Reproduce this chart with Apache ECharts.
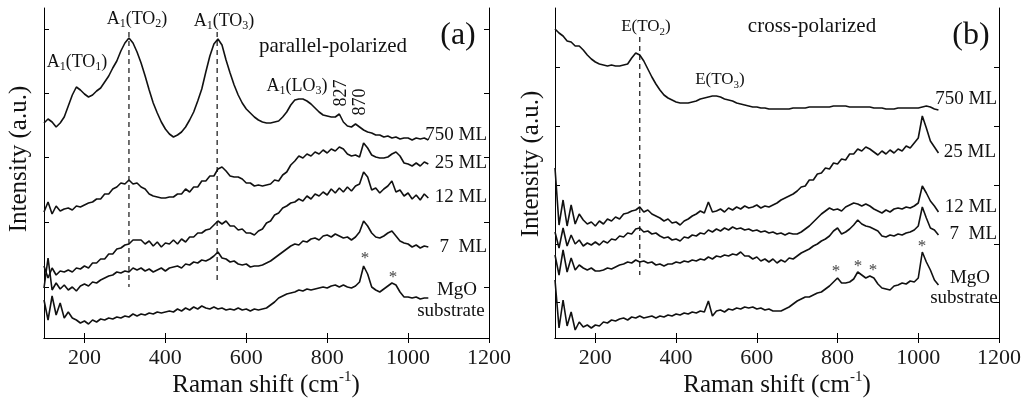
<!DOCTYPE html>
<html>
<head>
<meta charset="utf-8">
<title>Raman spectra</title>
<script src="https://cdn.jsdelivr.net/npm/echarts@6.0.0/dist/echarts.min.js"></script>
<style>
  html, body { margin: 0; padding: 0; background: #fff; }
  #chart { width: 1029px; height: 405px; }
</style>
</head>
<body>
<div id="chart"></div>
<script>
// Raman shift sampling grid (cm^-1), 100 ... 1050 in steps of 10
const ramanShift = Array.from({ length: 96 }, (_, i) => 100 + 10 * i);

// Axis ticks
const shiftTicks = [200, 400, 600, 800, 1000, 1200];
const intensityTicksPar = [51, 116, 181, 245, 309];
const intensityTicksCross = [36, 94, 153, 212, 271];

// (a) parallel-polarized spectra, offset intensity (a.u.)
const par750 = [
  215,219,216,211,215,221,232,243,251,248,
  244,241,243,247,250,256,262,270,277,287,
  295,300,295,286,275,262,248,235,225,216,
  209,204,201,203,206,211,218,226,237,249,
  266,282,294,299,293,278,265,253,243,235,
  229,225,221,218,216,215,215,216,217,221,
  226,233,238,239,239,237,234,230,226,223,
  222,221,221,224,216,212,211,214,211,208,
  206,205,203,203,201,202,200,201,199,200,
  200,198,200,199,200,198
];
const par25 = [
  126,136,124,132,127,129,130,128,132,131,
  133,135,136,139,139,144,144,149,151,155,
  154,158,154,155,151,149,144,142,141,140,
  140,141,141,144,144,149,146,151,151,157,
  157,162,162,169,171,167,162,161,161,159,
  155,155,152,153,152,153,154,158,157,163,
  166,173,177,182,180,184,182,186,184,188,
  185,189,187,191,189,184,182,183,181,195,
  190,183,181,180,180,181,184,186,182,175,
  174,172,175,172,176,174
];
const par12 = [
  72,60,70,63,67,66,68,66,70,69,
  72,70,75,75,79,79,84,84,89,90,
  93,94,98,98,98,94,97,92,96,91,
  95,94,98,94,99,96,101,101,105,105,
  108,109,113,117,114,117,112,112,108,109,
  105,105,103,107,109,115,117,123,125,130,
  132,135,136,139,137,142,139,144,142,146,
  143,149,145,150,146,151,147,152,154,166,
  161,148,150,145,149,152,157,146,148,142,
  145,139,143,138,144,140
];
const par7 = [
  50,80,48,55,49,53,48,51,47,52,
  54,52,56,55,58,60,62,63,66,65,
  67,66,70,68,70,67,69,66,68,70,
  67,70,71,72,70,74,73,76,75,78,
  77,79,82,86,80,79,76,77,74,73,
  74,71,72,72,73,75,77,80,83,86,
  89,92,94,93,97,96,99,100,98,102,
  103,101,104,102,100,101,98,101,106,117,
  112,105,101,100,102,105,107,102,97,95,
  94,91,93,90,92,91
];
const parMgO = [
  38,18,42,23,35,20,26,20,18,15,
  17,14,18,16,19,18,20,19,21,20,
  22,21,24,22,24,23,25,24,26,25,
  26,27,26,29,27,30,28,31,29,32,
  30,29,31,29,30,28,29,28,30,28,
  29,27,29,28,29,30,33,36,40,42,
  44,45,46,48,47,49,48,49,50,51,
  50,52,53,51,53,51,50,52,56,72,
  64,51,48,46,49,52,55,53,46,41,
  41,40,41,39,40,40
];

// (b) cross-polarized spectra, offset intensity (a.u.)
const cross750 = [
  309,305,302,297,296,292,292,288,283,279,
  276,274,273,272,273,272,272,273,274,280,
  285,283,277,269,261,254,248,243,240,238,
  236,235,235,235,236,237,239,240,241,242,
  242,241,239,238,237,235,234,233,232,231,
  231,230,230,229,229,229,229,229,229,230,
  230,230,230,231,231,231,231,231,231,232,
  232,232,232,231,231,231,231,231,231,230,
  230,230,229,229,229,230,230,230,230,230,
  230,231,232,231,229,228
];
const cross25 = [
  170,113,138,112,133,114,124,118,114,116,
  112,117,114,119,117,121,119,124,125,127,
  128,131,126,128,124,122,120,117,119,115,
  116,113,117,119,122,124,127,125,136,126,
  127,129,126,130,128,131,129,132,130,131,
  133,130,132,131,133,135,138,140,142,144,
  147,151,152,158,158,164,165,170,169,175,
  174,179,178,184,184,189,187,191,189,186,
  183,187,184,188,185,189,187,192,190,195,
  200,222,210,197,191,185
];
const cross12 = [
  106,90,110,92,103,94,98,92,95,93,
  96,93,97,95,99,98,102,101,105,104,
  109,110,106,107,104,105,102,100,101,98,
  99,97,101,100,103,102,105,104,108,106,
  109,107,110,108,111,109,110,108,109,107,
  108,106,107,105,106,104,105,103,105,104,
  104,106,109,112,116,120,124,127,130,128,
  129,127,131,133,135,134,132,134,132,129,
  127,125,128,126,129,130,129,131,130,132,
  135,152,145,137,132,126
];
const cross7 = [
  83,63,88,66,80,68,73,70,68,70,
  67,67,68,70,69,71,73,74,76,75,
  78,76,77,75,76,73,74,72,74,74,
  76,75,77,76,78,77,79,78,81,79,
  82,81,83,82,84,83,86,82,82,79,
  81,77,79,76,79,75,78,76,80,79,
  82,85,87,89,92,94,97,99,102,107,
  110,104,106,109,113,118,114,112,111,109,
  107,102,101,103,102,104,103,105,106,108,
  112,131,120,110,108,103
];
const crossMgO = [
  58,10,38,12,26,8,16,11,13,10,
  13,12,16,15,18,17,19,20,18,21,
  20,22,20,21,22,20,22,21,23,22,
  24,23,25,24,26,25,27,26,37,22,
  27,28,26,29,28,30,29,31,30,31,
  29,30,28,29,27,27,27,29,31,34,
  37,39,41,41,43,45,46,49,52,56,
  60,55,55,56,59,66,63,60,62,60,
  54,50,49,48,52,53,55,54,57,56,
  60,86,76,68,58,53
];

// Phonon mode guides: [shift, upper intensity, lower intensity]
const parGuides = [[310, 306, 51], [528, 306, 58]];
const crossGuides = [[310, 301, 63]];

const SERIF = '"Liberation Serif", "Times New Roman", serif';
const INK = '#111';

function spectrum(values, axisIndex) {
  return {
    type: 'line',
    xAxisIndex: axisIndex,
    yAxisIndex: axisIndex,
    data: ramanShift.map((x, i) => [x, values[i]]),
    symbol: 'none',
    lineStyle: { color: INK, width: 1.6 },
    silent: true,
    animation: false
  };
}

function guide(g, axisIndex) {
  return {
    type: 'line',
    xAxisIndex: axisIndex,
    yAxisIndex: axisIndex,
    data: [[g[0], g[1]], [g[0], g[2]]],
    symbol: 'none',
    lineStyle: { color: INK, width: 1.2, type: [5, 4] },
    silent: true,
    animation: false
  };
}

function xAxes(gridIndex) {
  const common = {
    type: 'value', gridIndex, min: 100, max: 1200,
    splitLine: { show: false },
    axisLine: { show: true, lineStyle: { color: '#000', width: 1 } },
    axisTick: { show: true, inside: true, length: 5, customValues: shiftTicks, lineStyle: { color: '#000' } }
  };
  return [
    Object.assign({}, common, {
      position: 'bottom',
      axisLabel: {
        customValues: shiftTicks, formatter: v => String(v),
        fontFamily: SERIF, fontSize: 22, color: '#1a1a1a', margin: 9
      }
    }),
    Object.assign({}, common, { position: 'top', axisLabel: { show: false } })
  ];
}

function yAxes(gridIndex, ticks) {
  const common = {
    type: 'value', gridIndex, min: 0, max: 330,
    splitLine: { show: false },
    axisLabel: { show: false },
    axisLine: { show: true, lineStyle: { color: '#000', width: 1 } },
    axisTick: { show: true, inside: true, length: 5, customValues: ticks, lineStyle: { color: '#000' } }
  };
  return [
    Object.assign({}, common, { position: 'left' }),
    Object.assign({}, common, { position: 'right' })
  ];
}

function text(x, y, str, size, opts) {
  return Object.assign({
    type: 'text', x, y, silent: true,
    style: Object.assign({
      text: str, fontFamily: SERIF, fontSize: size, fill: INK,
      align: 'center', verticalAlign: 'middle'
    }, (opts && opts.style) || {})
  }, (opts && opts.el) || {});
}

function modeText(x, y, str, size) {
  const sub = Math.round(size * 0.66);
  return text(x, y, str, size, {
    style: {
      rich: {
        m: { fontFamily: SERIF, fontSize: size, lineHeight: size + 4, fill: INK },
        s: { fontFamily: SERIF, fontSize: sub, lineHeight: sub, verticalAlign: 'bottom', fill: INK }
      }
    }
  });
}

function axisTitle(x, y) {
  return text(x, y, '{m|Raman shift (cm}{p|-1}{m|)}', 25, {
    style: {
      rich: {
        m: { fontFamily: SERIF, fontSize: 25, lineHeight: 30, fill: INK },
        p: { fontFamily: SERIF, fontSize: 15, lineHeight: 16, verticalAlign: 'top', fill: INK }
      }
    }
  });
}

const rot = { el: { rotation: Math.PI / 2 } };
const right = { style: { align: 'right' } };
const star = (x, y) => text(x, y, '*', 17, { style: { fill: '#444' } });

const graphics = [
  // axis titles
  axisTitle(266, 385),
  axisTitle(777, 385),
  text(19, 159, 'Intensity (a.u.)', 25, rot),
  text(531, 164, 'Intensity (a.u.)', 25, rot),

  // panel (a)
  text(458, 36, '(a)', 32),
  text(333, 46, 'parallel-polarized', 21),
  modeText(77, 62, '{m|A}{s|1}{m|(TO}{s|1}{m|)}', 18),
  modeText(137, 19, '{m|A}{s|1}{m|(TO}{s|2}{m|)}', 18),
  modeText(224, 21, '{m|A}{s|1}{m|(TO}{s|3}{m|)}', 18),
  modeText(297, 86, '{m|A}{s|1}{m|(LO}{s|3}{m|)}', 18),
  text(341, 93, '827', 18, rot),
  text(360, 102, '870', 18, rot),
  text(487, 135, '750 ML', 19, right),
  text(487, 163, '25 ML', 19, right),
  text(487, 197, '12 ML', 19, right),
  text(487, 247, '7  ML', 19, right),
  text(457, 290, 'MgO', 19),
  text(451, 311, 'substrate', 19),
  star(365, 259),
  star(393, 278),

  // panel (b)
  text(971, 36, '(b)', 32),
  text(812, 26, 'cross-polarized', 21),
  modeText(646, 27, '{m|E(TO}{s|2}{m|)}', 17),
  modeText(720, 80, '{m|E(TO}{s|3}{m|)}', 17),
  text(997, 99, '750 ML', 19, right),
  text(996, 152, '25 ML', 19, right),
  text(997, 207, '12 ML', 19, right),
  text(997, 234, '7  ML', 19, right),
  text(970, 278, 'MgO', 19),
  text(964, 298, 'substrate', 19),
  star(836, 272),
  star(858, 267),
  star(873, 271),
  star(922, 247)
];

const chart = echarts.init(document.getElementById('chart'), null, { renderer: 'canvas' });
chart.setOption({
  backgroundColor: '#fff',
  animation: false,
  grid: [
    { left: 44, top: 8, width: 445, height: 330 },
    { left: 555, top: 8, width: 444, height: 330 }
  ],
  xAxis: [...xAxes(0), ...xAxes(1)],
  yAxis: [...yAxes(0, intensityTicksPar), ...yAxes(1, intensityTicksCross)],
  series: [
    spectrum(par750, 0), spectrum(par25, 0), spectrum(par12, 0), spectrum(par7, 0), spectrum(parMgO, 0),
    ...parGuides.map(g => guide(g, 0)),
    spectrum(cross750, 2), spectrum(cross25, 2), spectrum(cross12, 2), spectrum(cross7, 2), spectrum(crossMgO, 2),
    ...crossGuides.map(g => guide(g, 2))
  ],
  graphic: graphics
});
</script>
</body>
</html>
